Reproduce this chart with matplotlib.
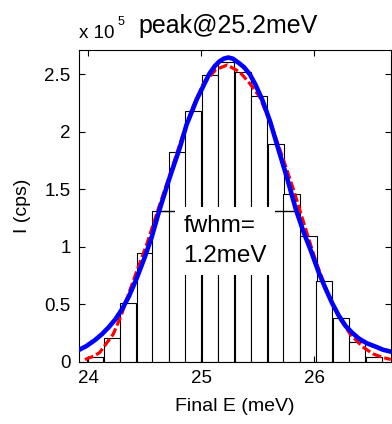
import matplotlib
matplotlib.use("Agg")
import matplotlib.pyplot as plt
import numpy as np

plt.rcParams['font.family'] = ['Liberation Sans', 'DejaVu Sans']

# histogram (units of 1e5 cps)
bin_centers = [24.06, 24.21, 24.35, 24.50, 24.64, 24.79, 24.93, 25.08, 25.22,
               25.37, 25.51, 25.66, 25.80, 25.95, 26.09, 26.24, 26.38, 26.53]
counts = [0.044, 0.21, 0.51, 0.95, 1.31, 1.82, 2.18, 2.49, 2.61,
          2.52, 2.31, 1.89, 1.46, 1.09, 0.70, 0.38, 0.17, 0.044]
bin_width = 0.145

# red dashed curve
red_x = [23.97, 24.05, 24.10, 24.16, 24.22, 24.29, 24.36, 24.43, 24.52, 24.62,
         24.72, 24.82, 24.92, 25.02, 25.13, 25.23, 25.34, 25.43, 25.52, 25.62,
         25.72, 25.82, 25.92, 26.02, 26.12, 26.22, 26.32, 26.43, 26.52, 26.60, 26.68]
red_y = [0.02, 0.05, 0.08, 0.16, 0.24, 0.40, 0.60, 0.79, 1.03, 1.33,
         1.62, 1.92, 2.20, 2.42, 2.54, 2.58, 2.52, 2.42, 2.30, 2.06,
         1.78, 1.49, 1.17, 0.86, 0.60, 0.39, 0.24, 0.13, 0.07, 0.04, 0.02]

# blue fit
blue_x = [23.91, 23.98, 24.06, 24.12, 24.18, 24.24, 24.30, 24.36, 24.43, 24.50,
          24.56, 24.63, 24.72, 24.81, 24.87, 24.96, 25.02, 25.07, 25.12, 25.16,
          25.20, 25.24, 25.28, 25.33, 25.38, 25.43, 25.48, 25.54, 25.61, 25.68,
          25.76, 25.84, 25.91, 25.97, 26.04, 26.10, 26.16, 26.22, 26.28, 26.34,
          26.40, 26.47, 26.55, 26.61, 26.68]
blue_y = [0.10, 0.135, 0.19, 0.24, 0.30, 0.37, 0.46, 0.57, 0.73, 0.91,
          1.08, 1.32, 1.60, 1.86, 2.06, 2.28, 2.40, 2.50, 2.57, 2.61,
          2.635, 2.645, 2.635, 2.60, 2.56, 2.50, 2.41, 2.28, 2.09, 1.86,
          1.60, 1.32, 1.12, 0.97, 0.78, 0.64, 0.51, 0.40, 0.31, 0.25,
          0.20, 0.16, 0.13, 0.105, 0.088]

fwhm_x = [24.60, 25.86]
half_max = 1.31

fig = plt.figure(figsize=(3.92, 4.24), dpi=100)
ax = fig.add_axes([0.2015, 0.1467, 0.7955, 0.7353])

ax.bar(bin_centers, counts, width=bin_width, facecolor='white',
       edgecolor='black', linewidth=0.8, zorder=1)
ax.plot(fwhm_x, [half_max, half_max], color='black', lw=1.0, zorder=2)
ax.text(24.844, 1.05, "fwhm=\n1.2meV", fontsize=17.5, ha='left', va='center',
        linespacing=1.45, zorder=3,
        bbox=dict(facecolor='white', edgecolor='none', pad=6))
ax.plot(red_x, red_y, color='red', lw=2.3, dashes=(2.8, 1.0), zorder=4)
ax.plot(blue_x, blue_y, color='blue', lw=3.3, zorder=5,
        solid_joinstyle='round', solid_capstyle='round')

ax.set_xlim(23.917, 26.68)
ax.set_ylim(0, 2.71)
ax.set_xticks([24, 25, 26])
ax.set_yticks([0, 0.5, 1, 1.5, 2, 2.5])
ax.set_yticklabels(['0', '0.5', '1', '1.5', '2', '2.5'])
ax.tick_params(direction='in', length=4, width=0.8, top=True, right=True,
               labelsize=13.5, pad=6)
for s in ax.spines.values():
    s.set_linewidth(0.8)

ax.set_xlabel("Final E (meV)", fontsize=14, labelpad=8)
ax.set_ylabel("I (cps)", fontsize=14, labelpad=10)

fig.text(79/392, 1-38/424, "x 10", fontsize=13.5, ha='left', va='baseline')
fig.text(118/392, 1-25/424, "5", fontsize=9, ha='left', va='baseline')
fig.text(228.5/392, 1-33/424, "peak@25.2meV", fontsize=18, ha='center', va='baseline')

fig.savefig("out.png", dpi=100)
